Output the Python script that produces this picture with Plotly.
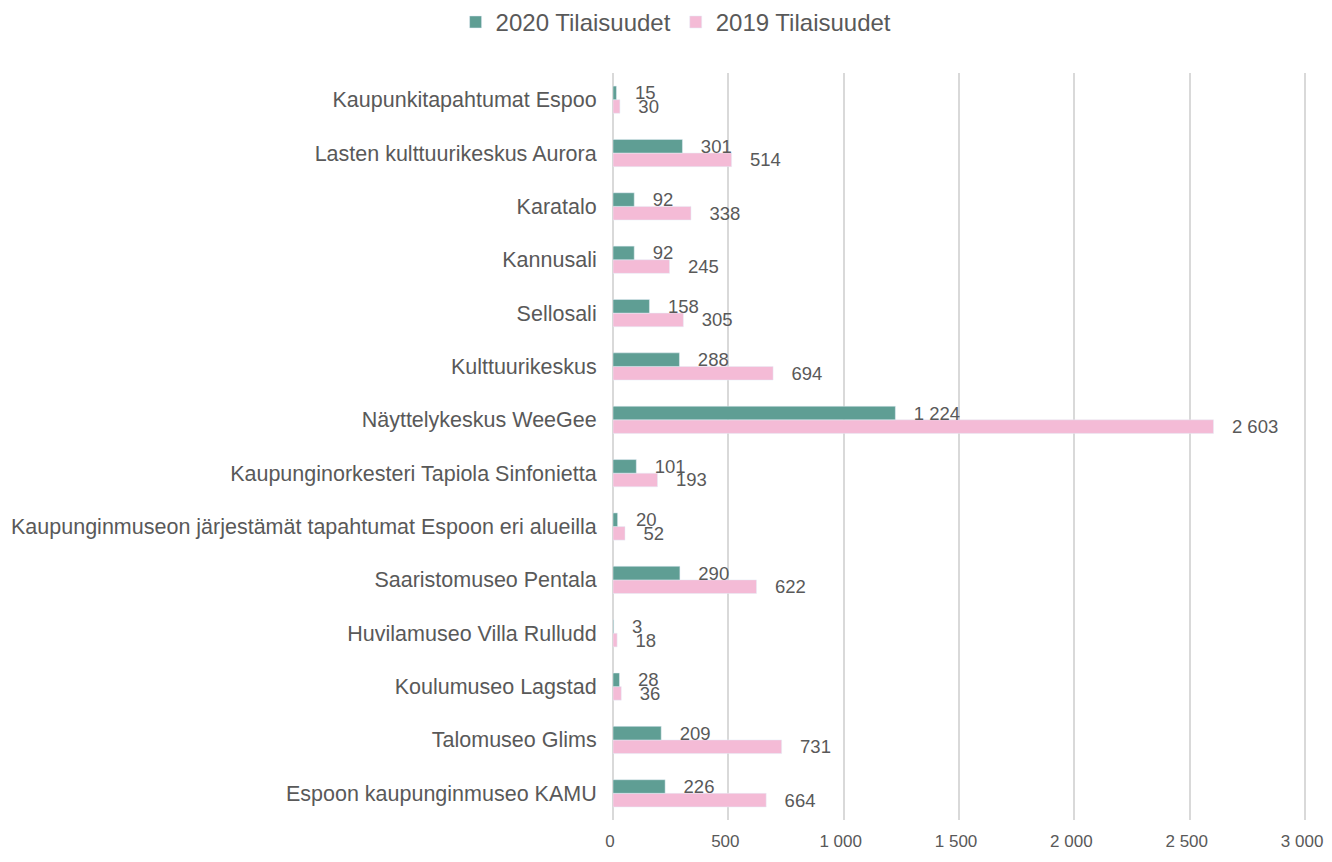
import plotly.graph_objects as go

categories = [
    "Espoon kaupunginmuseo KAMU",
    "Talomuseo Glims",
    "Koulumuseo Lagstad",
    "Huvilamuseo Villa Rulludd",
    "Saaristomuseo Pentala",
    "Kaupunginmuseon järjestämät tapahtumat Espoon eri alueilla",
    "Kaupunginorkesteri Tapiola Sinfonietta",
    "Näyttelykeskus WeeGee",
    "Kulttuurikeskus",
    "Sellosali",
    "Kannusali",
    "Karatalo",
    "Lasten kulttuurikeskus Aurora",
    "Kaupunkitapahtumat Espoo",
]
values_2020 = [226, 209, 28, 3, 290, 20, 101, 1224, 288, 158, 92, 92, 301, 15]
values_2019 = [664, 731, 36, 18, 622, 52, 193, 2603, 694, 305, 245, 338, 514, 30]
tick_values = [0, 500, 1000, 1500, 2000, 2500, 3000]

text_color = "#595959"
font_family = "Liberation Sans"

fig = go.Figure()
fig.add_trace(go.Bar(
    y=categories, x=values_2019, orientation="h", name="2019 Tilaisuudet",
    marker=dict(color="#F4BBD6"),
    text=values_2019, texttemplate="   %{x:,}", textposition="outside",
    textfont=dict(size=18.5, color=text_color, family=font_family),
    constraintext="none", cliponaxis=False,
))
fig.add_trace(go.Bar(
    y=categories, x=values_2020, orientation="h", name="2020 Tilaisuudet",
    marker=dict(color="#5F9E94"),
    text=values_2020, texttemplate="   %{x:,}", textposition="outside",
    textfont=dict(size=18.5, color=text_color, family=font_family),
    constraintext="none", cliponaxis=False,
))

fig.update_layout(
    width=1324, height=846,
    barmode="group", bargap=0.49, bargroupgap=0,
    separators=", ",
    paper_bgcolor="white", plot_bgcolor="white",
    font=dict(family=font_family, color=text_color),
    margin=dict(l=605, r=20, t=65, b=34, autoexpand=False),
    legend=dict(
        orientation="h", xref="container", x=0.5046, xanchor="center",
        yref="container", y=0.983, yanchor="middle", traceorder="reversed",
        font=dict(size=24, color=text_color, family=font_family),
    ),
)
fig.update_xaxes(
    range=[0, 3030], tickvals=tick_values, showgrid=True, automargin=False,
    separatethousands=True,
    gridcolor="#D9D9D9", gridwidth=1.5, zeroline=True, zerolinecolor="#D9D9D9",
    zerolinewidth=1.5, showline=False,
    ticks="outside", ticklen=6, tickcolor="rgba(0,0,0,0)",
    ticklabelshift=-3,
    tickfont=dict(size=17, color=text_color, family=font_family),
)
fig.update_yaxes(
    showgrid=False, showline=False, automargin=False,
    ticks="outside", ticklen=11, tickcolor="rgba(0,0,0,0)",
    tickfont=dict(size=21.5, color=text_color, family=font_family),
)

fig.write_html("out.html")
